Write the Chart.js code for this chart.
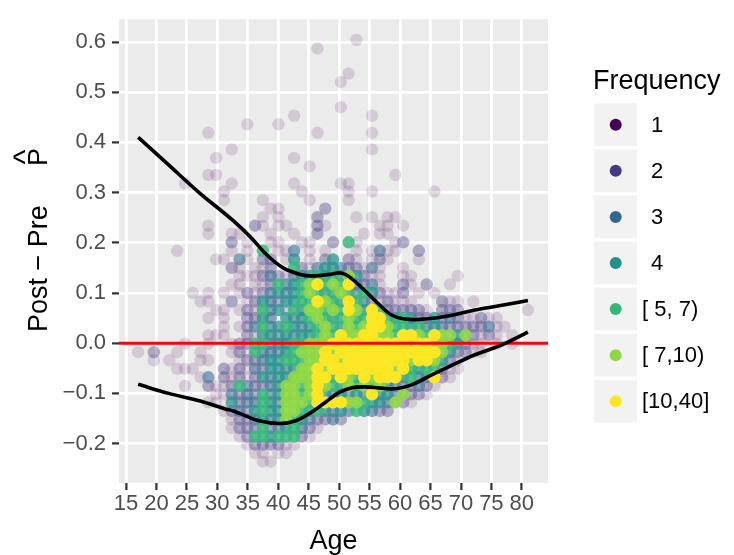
<!DOCTYPE html>
<html><head><meta charset="utf-8">
<script src="https://cdn.jsdelivr.net/npm/chart.js@4.4.0/dist/chart.umd.min.js"></script>
<style>html,body{margin:0;padding:0;background:#fff;}canvas{display:block;}</style>
</head><body>
<canvas id="c" width="734" height="555"></canvas>
<script>
// ---- data ----
const ageValues = [17, 18.28, 19.56, 20.84, 22.12, 23.4, 24.68, 25.96, 27.24, 28.52, 29.8, 31.08, 32.36, 33.64, 34.92, 36.2, 37.48, 38.76, 40.04, 41.32, 42.6, 43.88, 45.16, 46.44, 47.72, 49, 50.28, 51.56, 52.84, 54.12, 55.4, 56.68, 57.96, 59.24, 60.52, 61.8, 63.08, 64.36, 65.64, 66.92, 68.2, 69.48, 70.76, 72.04, 73.32, 74.6, 75.88, 77.16, 78.44, 79.72, 81];
// diffValues[j], j = 0 (lowest) .. 50 (highest)
const diffValues = [-0.236, -0.219, -0.202, -0.186, -0.169, -0.152, -0.135, -0.118, -0.102, -0.085, -0.068, -0.051, -0.034, -0.018, -0.001, 0.016, 0.033, 0.050, 0.066, 0.083, 0.100, 0.117, 0.134, 0.150, 0.167, 0.184, 0.201, 0.218, 0.234, 0.251, 0.268, 0.285, 0.302, 0.318, 0.335, 0.352, 0.369, 0.386, 0.402, 0.419, 0.436, 0.453, 0.470, 0.486, 0.503, 0.520, 0.537, 0.554, 0.570, 0.587, 0.604];
// frequency class per cell (1..7), first row = highest diff (j=50); columns follow ageValues
const freqGrid = [
"..........|..........|........1.|..........|..........|.",
"..........|..........|...1......|..........|..........|.",
"..........|..........|..........|..........|..........|.",
"..........|..........|..........|..........|..........|.",
"..........|..........|.......1..|..........|..........|.",
"..........|..........|......1...|..........|..........|.",
"..........|..........|..........|..........|..........|.",
"..........|..........|..........|..........|..........|.",
"..........|..........|......1...|..........|..........|.",
"..........|..........|1.........|1.........|..........|.",
"..........|....1...1.|..........|..........|..........|.",
".........1|..........|...1......|1.........|..........|.",
"..........|..........|..........|..........|..........|.",
"..........|..1.......|..........|1.........|..........|.",
"..........|1.........|1.........|..........|..........|.",
"..........|..........|..1.......|..........|..........|.",
".........1|1.........|..........|...1......|..........|.",
"......1...|..1.......|1.....11..|..........|..........|.",
"..........|.1........|.1.....1..|1.......1.|..........|.",
"..........|.1....1...|..1....1..|..........|..........|.",
"..........|.......11.|....2.....|..........|..........|.",
"..........|......1.1.|...2....1.|1.11......|..........|.",
".........1|.....21.11|...21.....|.11.1.....|..........|.",
".........1|..11...1..|1..2.....1|.11.......|..........|.",
"..........|..2.1..11.|.11..2.51.|...12.....|..........|.",
".....1....|..1.1.5.11|3.1.1...1.|1311..2...|..........|.",
"..........|11.31.22.1|4.1.24.21.|121...1...|..........|.",
"..........|..21.112..|5213443221|31..1.....|..........|.",
"..........|...1112321|3445454642|11..11....|.1........|.",
"..........|..11.11253|4567565732|31..21.2..|1.........|.",
".......1.1|.1.1212343|4565456535|42112.1.1.|..........|.",
"........11|..2.124324|4557654753|212111...2|11.1......|.",
"..........|11.1215341|5466565764|75222221.2|22........|1",
".........1|.1..2243.4|3456545655|7754542242|3211211...|.",
"..........|.1.1235345|4345654656|7765545343|22222311..|.",
".........1|11..214434|3445657667|7665776576|6462121.1.|.",
"......1..1|..12255344|5566677777|7777767766|54211.1.1.|.",
"1.2..1..1.|..12153334|5666767777|7777777776|42211.....|.",
"..1.1...11|...1223445|5566776777|7777767764|21........|.",
".....111..|.212132443|4667677777|7776754552|11........|.",
"........13|.212124344|6667757657|6777453372|1.........|.",
"......1..2|1125322346|6567654656|564322321.|..........|.",
"..........|1132325346|6567434343|74436221..|..........|.",
".........1|1.42335436|6657777665|443621....|..........|.",
"..........|.123245446|6545434354|322.......|..........|.",
"..........|..12234346|5432232...|..........|..........|.",
"..........|..12225234|5321......|..........|..........|.",
"..........|...1255455|521.......|..........|..........|.",
"..........|....122221|1.........|..........|..........|.",
"..........|.....11.11|..........|..........|..........|.",
"..........|......11..|..........|..........|..........|."
];
const freqLabels = ['1', '2', '3', '4', '[ 5, 7)', '[ 7,10)', '[10,40]'];
const freqColors = ['#440154', '#443A83', '#31688E', '#21908C', '#35B779', '#8FD744', '#FDE725'];
const freqAlpha = [0.14, 0.38, 0.55, 0.7, 0.82, 0.9, 1];

const upperCurveAge  = [17, 22, 27, 32.6, 35.4, 38.1, 40.8, 43.6, 45.2, 47, 48.5, 50, 51, 52.1, 54.2, 56.4, 58.6, 60.8, 62.5, 64.1, 67.4, 72.3, 76.5, 81];
const upperCurveDiff = [0.41, 0.355, 0.30, 0.244, 0.212, 0.176, 0.150, 0.137, 0.134, 0.135, 0.137, 0.140, 0.137, 0.128, 0.105, 0.079, 0.056, 0.048, 0.047, 0.048, 0.053, 0.066, 0.075, 0.085];
const lowerCurveAge  = [17, 22, 27.2, 31.3, 32.6, 36.7, 40.3, 43, 45.8, 47.7, 49.9, 52.1, 54.2, 56.5, 58.6, 61.9, 65.2, 68.5, 72.3, 76.4, 81];
const lowerCurveDiff = [-0.082, -0.100, -0.115, -0.131, -0.135, -0.154, -0.160, -0.154, -0.135, -0.118, -0.099, -0.089, -0.087, -0.089, -0.091, -0.083, -0.063, -0.044, -0.023, -0.005, 0.022];

const xTickValues = [15, 20, 25, 30, 35, 40, 45, 50, 55, 60, 65, 70, 75, 80];
const yTickValues = [-0.2, -0.1, 0, 0.1, 0.2, 0.3, 0.4, 0.5, 0.6];
const yTickLabels = ['\u22120.2', '\u22120.1', '0.0', '0.1', '0.2', '0.3', '0.4', '0.5', '0.6'];
const xLimits = [13.85, 84.3];
const yLimits = [-0.2785, 0.6453];
const referenceDiff = 0;
const xTitle = 'Age';
const yTitleMain = 'Post \u2212 Pre';
const yTitleSymbol = 'P';
const legendTitle = 'Frequency';

// ---- build datasets ----
const FONT = '"Liberation Sans", Arial, Helvetica, sans-serif';
function rgba(hex, a) {
  const n = parseInt(hex.slice(1), 16);
  return `rgba(${(n >> 16) & 255},${(n >> 8) & 255},${n & 255},${a})`;
}
const rows = freqGrid.map(r => r.replace(/\|/g, ''));
const pointSets = freqLabels.map(() => []);
rows.forEach((row, r) => {
  const j = diffValues.length - 1 - r;
  for (let i = 0; i < row.length; i++) {
    const ch = row[i];
    if (ch >= '1' && ch <= '7') pointSets[+ch - 1].push({ x: ageValues[i], y: diffValues[j] });
  }
});
const datasets = pointSets.map((pts, k) => ({
  type: 'scatter', data: pts, order: 20 - k,
  pointRadius: 6.2, pointHoverRadius: 6.2, pointBorderWidth: 0,
  backgroundColor: rgba(freqColors[k], freqAlpha[k]), borderColor: 'rgba(0,0,0,0)'
}));
datasets.push({
  type: 'line', data: xLimits.map(x => ({ x, y: referenceDiff })), order: 3,
  borderColor: '#FF0000', borderWidth: 3, pointRadius: 0, fill: false
});
[[upperCurveAge, upperCurveDiff], [lowerCurveAge, lowerCurveDiff]].forEach(([ax, dy]) => {
  datasets.push({
    type: 'line', data: ax.map((a, i) => ({ x: a, y: dy[i] })), order: 1,
    borderColor: '#000', borderWidth: 3.6, pointRadius: 0, fill: false,
    cubicInterpolationMode: 'monotone'
  });
});

const panelPlugin = {
  id: 'panel',
  beforeDraw(chart) {
    const { ctx, chartArea: a } = chart;
    ctx.save();
    ctx.fillStyle = '#fff'; ctx.fillRect(0, 0, chart.width, chart.height);
    ctx.fillStyle = '#EBEBEB'; ctx.fillRect(a.left, a.top, a.right - a.left, a.bottom - a.top);
    ctx.restore();
  },
  afterDraw(chart) {
    const { ctx, chartArea: a } = chart;
    ctx.save();
    ctx.fillStyle = '#000';
    // x title
    ctx.font = '27px ' + FONT; ctx.textAlign = 'center'; ctx.textBaseline = 'alphabetic';
    ctx.fillText(xTitle, (a.left + a.right) / 2, 549);
    // y title
    ctx.save();
    ctx.translate(47, 332); ctx.rotate(-Math.PI / 2);
    ctx.textAlign = 'left';
    ctx.fillText(yTitleMain, 0, 0);
    ctx.fillText(yTitleSymbol, 166, 0);
    ctx.font = '32px ' + FONT; ctx.textAlign = 'center';
    ctx.fillText('^', 175, -12);
    ctx.restore();
    // legend
    ctx.font = '27px ' + FONT; ctx.textAlign = 'left';
    ctx.fillText(legendTitle, 593, 89);
    for (let k = 0; k < freqLabels.length; k++) {
      const top = 103.3 + k * 46.1;
      ctx.fillStyle = '#F2F2F2'; ctx.fillRect(594, top, 43, 42.7);
      ctx.beginPath(); ctx.arc(615.7, top + 21.4, 6, 0, Math.PI * 2);
      ctx.fillStyle = freqColors[k]; ctx.fill();
      ctx.fillStyle = '#000'; ctx.font = '22px ' + FONT; ctx.textBaseline = 'middle';
      ctx.fillText(freqLabels[k], k < 4 ? 651 : 642, top + 22.5);
    }
    ctx.restore();
  }
};

new Chart(document.getElementById('c'), {
  type: 'scatter',
  data: { datasets },
  options: {
    responsive: false, animation: false, devicePixelRatio: 1,
    layout: { padding: { left: 0, right: 186, top: 10, bottom: 0 } },
    plugins: { legend: { display: false }, tooltip: { enabled: false } },
    events: [],
    scales: {
      x: {
        type: 'linear', min: xLimits[0], max: xLimits[1],
        afterFit: s => { s.height = 72; },
        afterBuildTicks: s => { s.ticks = xTickValues.map(v => ({ value: v })); },
        border: { display: false },
        grid: { color: '#FFFFFF', lineWidth: 2.8, tickColor: '#333333', tickWidth: 2.2, tickLength: 7, drawTicks: true },
        ticks: { color: '#4D4D4D', font: { size: 22, family: FONT }, padding: 1, maxRotation: 0, autoSkip: false,
                 callback: v => String(v) }
      },
      y: {
        type: 'linear', min: yLimits[0], max: yLimits[1],
        afterFit: s => { s.width = 119; },
        afterBuildTicks: s => { s.ticks = yTickValues.map(v => ({ value: v })); },
        border: { display: false },
        grid: { color: '#FFFFFF', lineWidth: 2.8, tickColor: '#333333', tickWidth: 2.2, tickLength: 7, drawTicks: true },
        ticks: { color: '#4D4D4D', font: { size: 22, family: FONT }, padding: 6, autoSkip: false,
                 callback: (v) => { const i = yTickValues.findIndex(t => Math.abs(t - v) < 1e-9); return i >= 0 ? yTickLabels[i] : ''; } }
      }
    }
  },
  plugins: [panelPlugin]
});
</script>
</body></html>
